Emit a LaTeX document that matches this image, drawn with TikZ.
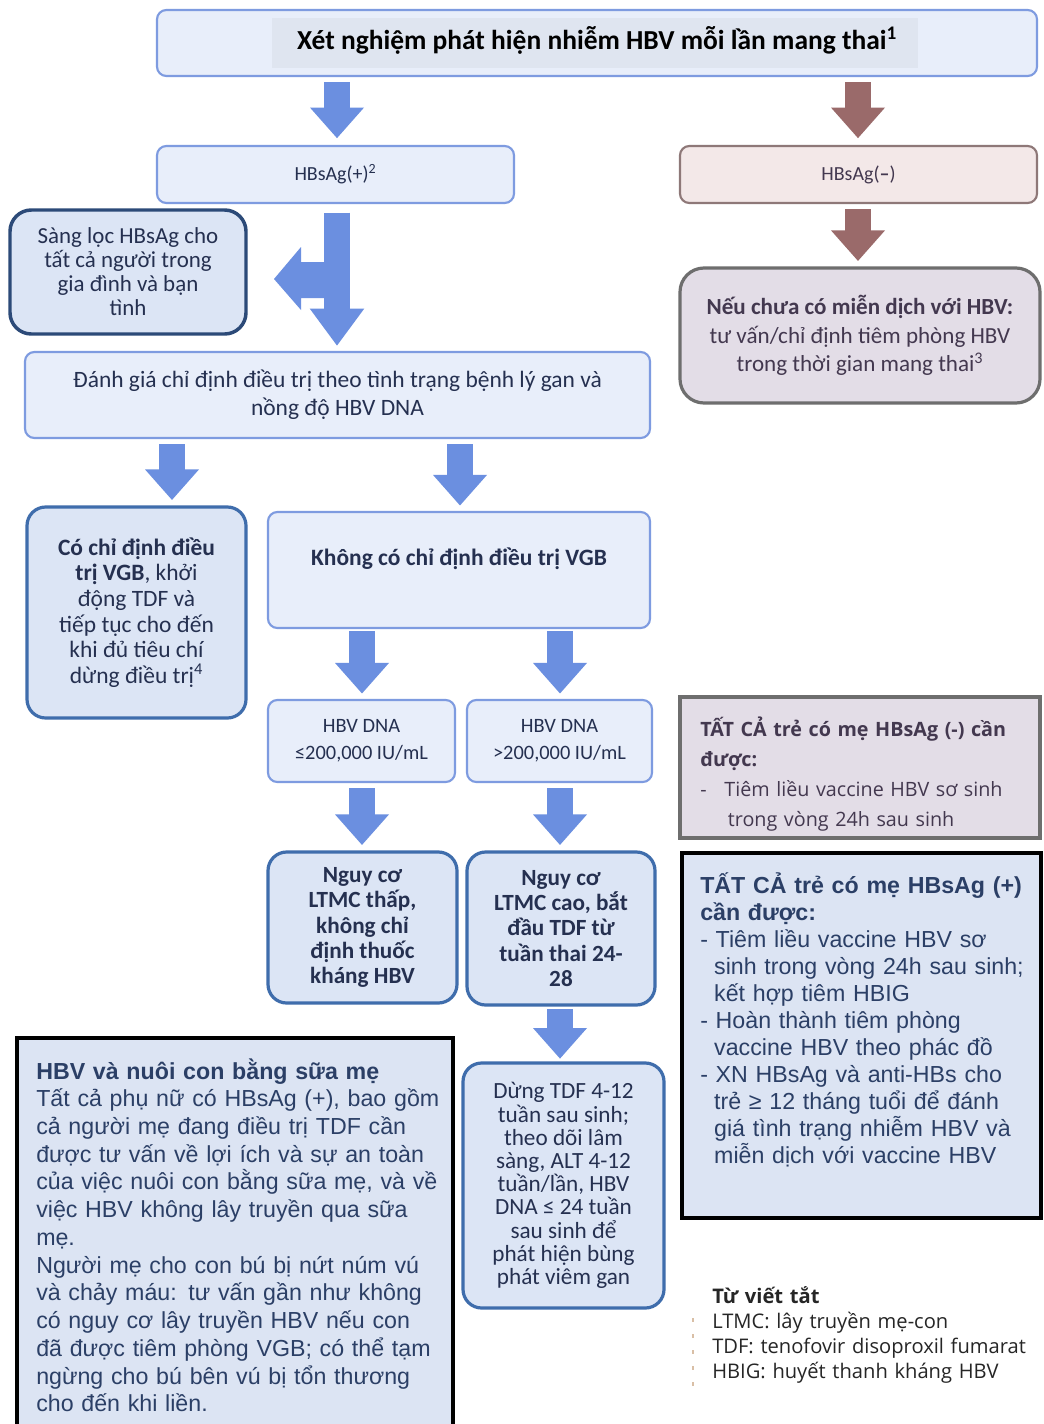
\documentclass[tikz,border=0pt]{standalone}
\usepackage{fontspec}
\setmainfont{Carlito}
\newfontfamily\arialf{Liberation Sans}
\newfontfamily\opensf{Open Sans}
\usetikzlibrary{arrows.meta,calc}
\definecolor{bluearrow}{HTML}{6B8FE0}
\definecolor{brownarrow}{HTML}{9A6A6A}
\definecolor{boxfill}{HTML}{E8EEFA}
\definecolor{boxdraw}{HTML}{7E9BE0}
\definecolor{thickfill}{HTML}{DCE5F5}
\definecolor{thickdraw}{HTML}{3F6DAC}
\definecolor{screendraw}{HTML}{2C4A78}
\definecolor{navy}{HTML}{253050}
\definecolor{pinkfill}{HTML}{F3E8E8}
\definecolor{pinkdraw}{HTML}{8E7878}
\definecolor{lavfill}{HTML}{E3DDE7}
\definecolor{graydraw}{HTML}{6E6E6E}
\definecolor{purpletext}{HTML}{43384F}
\definecolor{notefill}{HTML}{DCE4F3}
\definecolor{notetext}{HTML}{2B3F66}
\definecolor{titlehl}{HTML}{DFE5F0}
\tikzset{
  rect/.style n args={4}{at={({(#1+#3)/2},{(#2+#4)/2})},
    minimum width={(#3-#1)*0.75pt}, minimum height={(#4-#2)*0.75pt}},
  fbox/.style={draw=boxdraw, fill=boxfill, line width=1.6pt, rounded corners=7pt,
    inner sep=0pt, text=navy, align=center, font=\fontsize{15}{20}\selectfont},
  tbox/.style={draw=thickdraw, fill=thickfill, line width=2.4pt, rounded corners=14pt,
    inner sep=0pt, text=navy, align=center},
  notebox/.style={draw=black, fill=notefill, line width=2.6pt, inner sep=0pt},
  notetxt/.style={anchor=base west, inner sep=0pt, align=left, text=notetext},
  barrow/.style={draw=bluearrow, line width=20pt, -{Triangle[width=39pt,length=23pt]},
    shorten <=4pt, shorten >=4pt},
  brarrow/.style={barrow, draw=brownarrow},
}
\begin{document}
\begin{tikzpicture}[x=0.75pt,y=-0.75pt]
\useasboundingbox (0,0) rectangle (1043,1424);
\fill[white] (0,0) rectangle (1043,1424);

% ---------- top ----------
\node[fbox, rect={157}{10}{1037}{76}] (title) {};
\fill[titlehl] (272,18) rectangle (918,68);
\node[text=black, font=\bfseries\fontsize{20.6}{24}\selectfont] (titletext) at (597,40)
  {Xét nghiệm phát hiện nhiễm HBV mỗi lần mang thai\textsuperscript{1}};

\node[fbox, rect={157}{146}{514}{203}] (hp) {HBsAg(+)\textsuperscript{2}};
\node[fbox, draw=pinkdraw, fill=pinkfill, text=purpletext, rect={680}{146}{1037}{203}] (hn) {HBsAg(\textbf{–})};

\node[draw=graydraw, fill=lavfill, line width=2.4pt, rounded corners=18pt, inner sep=0pt,
  text=purpletext, align=center, font=\fontsize{17.3}{21.4}\selectfont,
  rect={680}{268}{1040}{403}] (neg)
  {\textbf{Nếu chưa có miễn dịch với HBV:}\\tư vấn/chỉ định tiêm phòng HBV\\trong thời gian mang thai\textsuperscript{3}};

\node[draw=screendraw, fill=thickfill, line width=2.6pt, rounded corners=16pt, inner sep=0pt,
  text=navy, align=center, font=\fontsize{17.2}{18}\selectfont,
  rect={10}{210}{246}{334}] (screen)
  {Sàng lọc HBsAg cho\\tất cả người trong\\gia đình và bạn\\tình};

\node[fbox, font=\fontsize{17.6}{21}\selectfont, rect={25}{352}{650}{438}] (eval)
  {Đánh giá chỉ định điều trị theo tình trạng bệnh lý gan và\\nồng độ HBV DNA};

% ---------- middle ----------
\node[tbox, font=\fontsize{17.6}{19.2}\selectfont, rect={27}{507}{246}{718}] (treat)
  {\textbf{Có chỉ định điều}\\\textbf{trị VGB}, khởi\\động TDF và\\tiếp tục cho đến\\khi đủ tiêu chí\\dừng điều trị\textsuperscript{4}};

\node[fbox, font=\bfseries\fontsize{17.6}{19}\selectfont, rect={268}{512}{650}{628}] (notreat)
  {\raisebox{3.5pt}[0pt][0pt]{Không có chỉ định điều trị VGB}};

\node[fbox, font=\fontsize{15.3}{20.3}\selectfont, rect={268}{700}{455}{782}] (dlow) {HBV DNA\\≤200,000 IU/mL};
\node[fbox, font=\fontsize{15.3}{20.3}\selectfont, rect={467}{700}{652}{782}] (dhigh) {HBV DNA\\>200,000 IU/mL};

\node[tbox, font=\bfseries\fontsize{17.4}{19}\selectfont, rect={268}{852}{457}{1003}] (rlow)
  {Nguy cơ\\LTMC thấp,\\không chỉ\\định thuốc\\kháng HBV};
\node[tbox, font=\bfseries\fontsize{17.4}{19}\selectfont, rect={467}{852}{655}{1005}] (rhigh)
  {Nguy cơ\\LTMC cao, bắt\\đầu TDF từ\\tuần thai 24-\\28};

\node[tbox, font=\fontsize{17.4}{17.4}\selectfont, rect={463}{1063}{664}{1308}] (stop)
  {Dừng TDF 4-12\\tuần sau sinh;\\theo dõi lâm\\sàng, ALT 4-12\\tuần/lần, HBV\\DNA ≤ 24 tuần\\sau sinh để\\phát hiện bùng\\phát viêm gan};

% ---------- notes ----------
\node[notebox, rect={17}{1038}{453}{1434}] (breast) {};
\node[notetxt, text width=310pt, font=\arialf\fontsize{17.4}{20.8}\selectfont] (breasttext) at (36,1079)
  {\textbf{HBV và nuôi con bằng sữa mẹ}\\
  Tất cả phụ nữ có HBsAg (+), bao gồm\\
  cả người mẹ đang điều trị TDF cần\\
  được tư vấn về lợi ích và sự an toàn\\
  của việc nuôi con bằng sữa mẹ, và về\\
  việc HBV không lây truyền qua sữa\\
  mẹ.\\
  Người mẹ cho con bú bị nứt núm vú\\
  và chảy máu: tư vấn gần như không\\
  có nguy cơ lây truyền HBV nếu con\\
  đã được tiêm phòng VGB; có thể tạm\\
  ngừng cho bú bên vú bị tổn thương\\
  cho đến khi liền.};

\node[draw=graydraw, fill=lavfill, line width=2.6pt, inner sep=0pt, rect={680}{697}{1040}{838}] (negkid) {};
\node[notetxt, text=purpletext, text width=250pt, font=\opensf\fontsize{14.8}{22.5}\selectfont] (negkidtext) at (700,736)
  {\textbf{TẤT CẢ trẻ có mẹ HBsAg (-) cần}\\
  \textbf{được:}\\
  -\hspace{0.9em}Tiêm liều vaccine HBV sơ sinh\\
  \hspace*{1.4em}trong vòng 24h sau sinh};

\node[notebox, rect={682}{853}{1041}{1218}] (poskid) {};
\node[notetxt, text width=250pt, font=\arialf\fontsize{17.4}{20.3}\selectfont] (poskidtext) at (700,893)
  {\textbf{TẤT CẢ trẻ có mẹ HBsAg (+)}\\
  \textbf{cần được:}\\
  - Tiêm liều vaccine HBV sơ\\
  \hspace*{0.6em}sinh trong vòng 24h sau sinh;\\
  \hspace*{0.6em}kết hợp tiêm HBIG\\
  - Hoàn thành tiêm phòng\\
  \hspace*{0.6em}vaccine HBV theo phác đồ\\
  - XN HBsAg và anti-HBs cho\\
  \hspace*{0.6em}trẻ ≥ 12 tháng tuổi để đánh\\
  \hspace*{0.6em}giá tình trạng nhiễm HBV và\\
  \hspace*{0.6em}miễn dịch với vaccine HBV};

\draw[draw=orange!40!gray!50, line width=1pt, dash pattern=on 3pt off 9pt] (693,1318) -- (693,1392);
\node[anchor=base west, inner sep=0pt, align=left, text=black!85, text width=250pt,
  font=\opensf\fontsize{15.1}{18.75}\selectfont] (legend) at (712,1303)
  {\textbf{Từ viết tắt}\\LTMC: lây truyền mẹ-con\\TDF: tenofovir disoproxil fumarat\\HBIG: huyết thanh kháng HBV};

% ---------- arrows ----------
\coordinate (x170) at (172,0);
\coordinate (x460) at (460,0);
\coordinate (x363) at (362,0);
\coordinate (x560) at (560,0);
\coordinate (x337) at (337,0);
\coordinate (x858) at (858,0);

\draw[barrow, shorten <=4pt, shorten >=5pt] (title.south -| x337) -- (hp.north -| x337);
\draw[brarrow, shorten <=4pt, shorten >=5pt] (title.south -| x858) -- (hn.north -| x858);
\draw[brarrow] (hn.south -| x858) -- (neg.north -| x858);
\draw[barrow, line width=19pt, -{Triangle[width=39pt,length=28pt]}, shorten <=6.5pt, shorten >=3.8pt]
  (hp.south -| x337) -- (eval.north -| x337);
\fill[bluearrow] (325,262) -- (301,262) -- (301,247) -- (274,279) -- (301,310) -- (301,298) -- (325,298) -- cycle;
\draw[barrow] (eval.south -| x170) -- (treat.north -| x170);
\draw[barrow] (eval.south -| x460) -- (notreat.north -| x460);
\draw[barrow, shorten <=1.5pt] (notreat.south -| x363) -- (dlow.north -| x363);
\draw[barrow, shorten <=1.5pt] (notreat.south -| x560) -- (dhigh.north -| x560);
\draw[barrow] (dlow.south -| x363) -- (rlow.north -| x363);
\draw[barrow] (dhigh.south -| x560) -- (rhigh.north -| x560);
\draw[barrow, shorten <=2pt, shorten >=2pt] (rhigh.south -| x560) -- (stop.north -| x560);
\end{tikzpicture}
\end{document}
